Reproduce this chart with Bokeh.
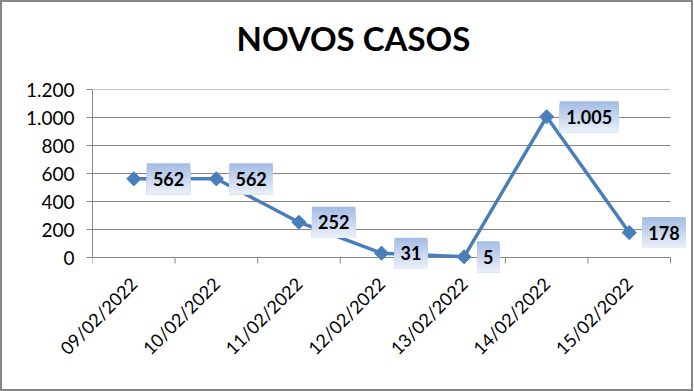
from bokeh.plotting import figure
from bokeh.models import FixedTicker, Range1d, ColumnDataSource, Title
from bokeh.core.properties import value
from bokeh.embed import file_html
from bokeh.resources import INLINE
import math

dates = ["09/02/2022", "10/02/2022", "11/02/2022", "12/02/2022", "13/02/2022", "14/02/2022", "15/02/2022"]
casos = [562, 562, 252, 31, 5, 1005, 178]
casos_labels = ["562", "562", "252", "31", "5", "1.005", "178"]
y_ticks = [0, 200, 400, 600, 800, 1000, 1200]
y_tick_labels = ["0", "200", "400", "600", "800", "1.000", "1.200"]

W, H = 693, 391
N = len(dates)
YMAX = 1200
# geometry of the plotting area (pixels inside the canvas; the 2px page border shifts it by 2)
X0_PX, X1_PX = 90, 668      # x = 0 .. N
YTOP_PX, Y0_PX = 87, 255    # y = YMAX .. 0
EXTRA_R, EXTRA_B = 18, 17   # extra room so that data-label boxes are not clipped
px_x = (X1_PX - X0_PX) / N
px_y = (Y0_PX - YTOP_PX) / YMAX
x_end = N + EXTRA_R / px_x
y_start = -EXTRA_B / px_y

BL = X0_PX
BR = W - X1_PX - EXTRA_R
BT = YTOP_PX
BB = H - Y0_PX - EXTRA_B

GRAY = "#868686"
BLUE = "#4a7ebb"
FONT = "Lato"

p = figure(width=W, height=H, output_backend="svg", toolbar_location=None,
           x_range=Range1d(0, x_end), y_range=Range1d(y_start, YMAX),
           min_border_left=BL, min_border_right=BR, min_border_top=BT, min_border_bottom=BB)
p.styles = {"border": "2px solid #878787", "box-sizing": "border-box"}
p.outline_line_color = None
p.background_fill_color = "white"
p.border_fill_color = "white"

# trailing empty line lifts the title away from the plotting area
title = Title(text="NOVOS CASOS\n", align="left", offset=144, text_font=FONT,
              text_font_size="33px", text_font_style="bold", text_color="black",
              text_line_height=0.8, standoff=0)
p.add_layout(title, "above")

xs = [i + 0.5 for i in range(N)]

# x axis: only the rotated labels come from the axis
p.xaxis.ticker = FixedTicker(ticks=xs)
p.xaxis.major_label_overrides = {x: d for x, d in zip(xs, dates)}
p.xaxis.major_tick_line_color = None
p.xaxis.minor_tick_line_color = None
p.xaxis.axis_line_color = None
p.xaxis.major_label_orientation = math.pi / 4
p.xaxis.major_label_text_font = FONT
p.xaxis.major_label_text_font_size = "18px"
p.xaxis.major_label_text_color = "black"
p.xaxis.major_label_standoff = 0

# y axis
p.yaxis.bounds = (0, YMAX)
p.yaxis.ticker = FixedTicker(ticks=y_ticks)
p.yaxis.major_label_overrides = {t: l for t, l in zip(y_ticks, y_tick_labels)}
p.yaxis.major_tick_out = 6
p.yaxis.major_tick_in = 0
p.yaxis.major_tick_line_color = GRAY
p.yaxis.minor_tick_line_color = None
p.yaxis.axis_line_color = GRAY
p.yaxis.major_label_text_font = FONT
p.yaxis.major_label_text_font_size = "19px"
p.yaxis.major_label_text_color = "black"
p.yaxis.major_label_standoff = 12

p.xgrid.grid_line_color = None
p.ygrid.grid_line_color = None
# horizontal grid lines limited to the category span (the one at 0 is the x axis line)
p.segment(x0=[0] * len(y_ticks), x1=[N] * len(y_ticks), y0=y_ticks, y1=y_ticks,
          line_color=GRAY, line_width=1)
# category boundary ticks on the x axis
bounds_x = list(range(N + 1))
p.segment(x0=bounds_x, x1=bounds_x, y0=[0] * (N + 1), y1=[-6 / px_y] * (N + 1),
          line_color=GRAY, line_width=1)

src = ColumnDataSource(dict(x=xs, y=casos, lab=casos_labels))
p.line("x", "y", source=src, line_color=BLUE, line_width=3.5)
p.scatter("x", "y", source=src, marker="square", angle=math.pi / 4, size=10,
          fill_color=BLUE, line_color=BLUE)

# data label boxes (vertical gradient approximated with stacked bands)
top_c = (166, 189, 229)
bot_c = (233, 239, 249)
NB = 12
BOX_H = 31
GAP = 13
widths = [12 + sum(10.5 if ch.isdigit() else 5 for ch in lab) for lab in casos_labels]
left = [x + GAP / px_x for x in xs]
right = [x + (GAP + w) / px_x for x, w in zip(xs, widths)]
bottom = [v - (BOX_H / 2) / px_y for v in casos]
for b in range(NB):
    t = b / (NB - 1)
    col = "#%02x%02x%02x" % tuple(int(round(top_c[k] + (bot_c[k] - top_c[k]) * t)) for k in range(3))
    top = [v + (BOX_H / 2 - b * BOX_H / NB) / px_y for v in casos]
    p.quad(left=left, right=right, top=top, bottom=bottom, fill_color=col, line_color=None)

p.text(x=xs, y=casos, text=casos_labels, x_offset=[GAP + w / 2 for w in widths],
       text_align="center", text_baseline="middle", text_font=value(FONT),
       text_font_size="18px", text_font_style="bold", text_color="black")

open("out.html", "w").write(file_html(p, INLINE))
